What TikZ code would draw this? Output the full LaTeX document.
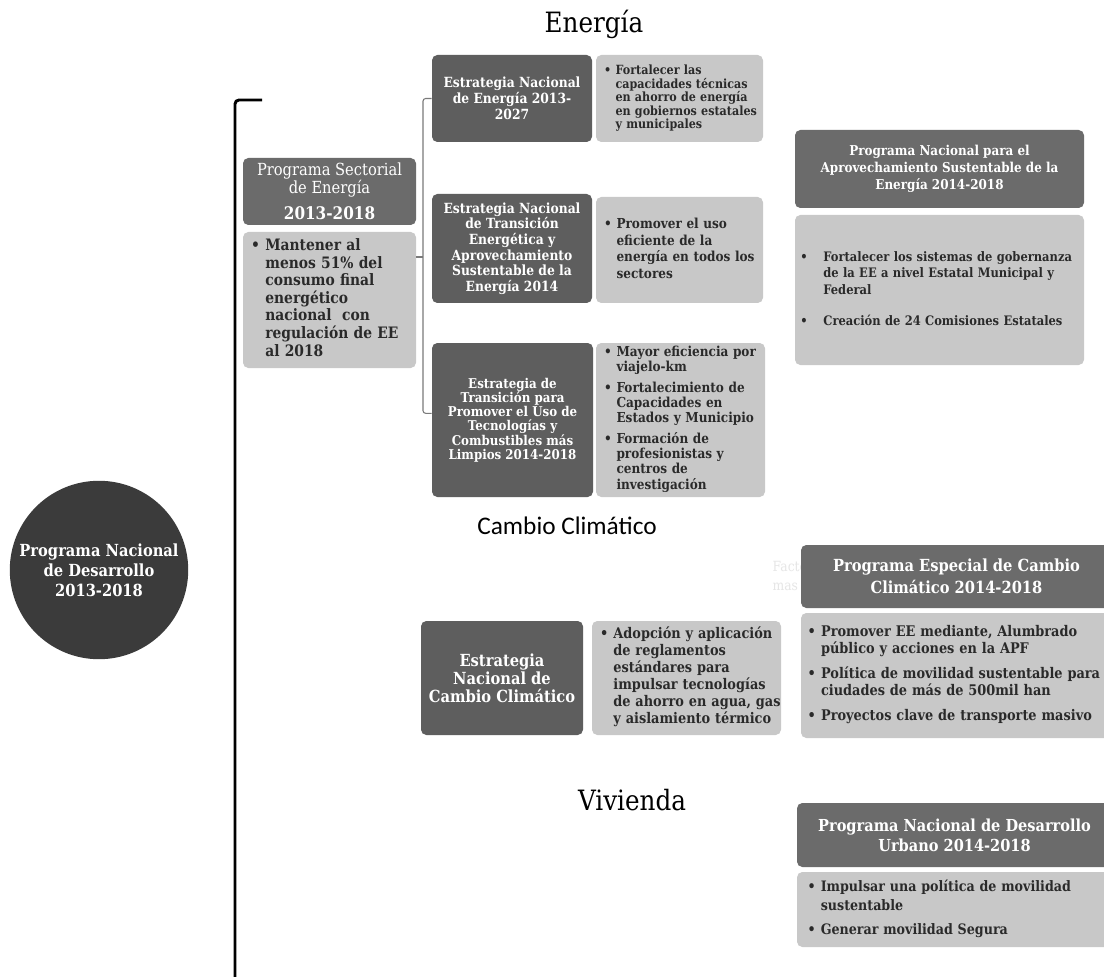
\documentclass[tikz,border=0pt]{standalone}
\usepackage{fontspec}
\setmainfont{DejaVu Serif}[FakeStretch=0.88]
\newfontfamily\titlesans{Carlito}

\definecolor{circgray}{HTML}{3B3B3B}
\definecolor{headgray}{HTML}{6B6B6B}
\definecolor{stratgray}{HTML}{5E5E5E}
\definecolor{notegray}{HTML}{C8C8C8}
\definecolor{inkgray}{HTML}{2A2A2A}
\definecolor{linegray}{HTML}{7A7A7A}
\definecolor{ghostgray}{HTML}{E6E6E6}

\newcommand{\fsz}[2]{\fontsize{#1}{#2}\selectfont}
\newcommand{\blist}[2][0.35em]{\noindent\begin{tabular}{@{}l@{\hspace{#1}}l@{}}#2\end{tabular}}

\begin{document}
\begin{tikzpicture}
  [x=0.75pt,y=-0.75pt,
   panel/.style={rounded corners=4pt,inner sep=2pt,align=center},
   headbox/.style={panel,fill=headgray,text=white},
   stratbox/.style={panel,fill=stratgray,text=white,minimum width=120pt},
   notebox/.style={panel,fill=notegray,text=inkgray,align=left,inner xsep=6pt},
   sectitle/.style={text=black,inner sep=0pt},
   joinline/.style={draw=linegray,line width=0.8pt,rounded corners=2pt}]
  \path[use as bounding box,fill=white] (0,0) rectangle (1104,977);

  % titles
  \node[sectitle,font=\fsz{21}{24}] (tEn) at (594,24) {Energía};
  \node[sectitle,font=\titlesans\fsz{19}{22}] (tCc) at (567,526) {Cambio Climático};
  \node[sectitle,font=\fsz{21}{24}] (tVi) at (632,800) {Vivienda};

  % national plan
  \node[circle,fill=circgray,text=white,align=center,minimum size=133.5pt,
        font=\bfseries\fsz{12.5}{15}] (pnd) at (99,570)
        {Programa Nacional\\de Desarrollo\\2013-2018};

  \coordinate (brTop) at (262,100);
  \coordinate (brBot) at (235,985);
  \draw[line width=2.2pt,rounded corners=3pt] (brTop) -| (brBot);

  % energy sector
  \node[headbox,minimum width=129.75pt,minimum height=50.25pt,font=\fsz{12.5}{13.2}]
        (pseHead) at (329.5,191.5)
        {Programa Sectorial\\de Energía\\[7pt]{\bfseries\fsz{13}{13}2013-2018}};
  \node[notebox,text width=117.75pt,minimum height=102pt,font=\bfseries\fsz{11.8}{13.1}]
        (pseBody) at (329.5,300)
        {\blist{\textbullet & Mantener al\\ & menos 51\% del\\ & consumo final\\ & energético\\
         & nacional\ \ con\\ & regulación de EE\\ & al 2018}};

  \node[stratbox,minimum height=65.25pt,font=\bfseries\fsz{10.5}{11.8}] (ent) at (512,98.5)
        {Estrategia Nacional\\de Energía 2013-\\2027};
  \node[notebox,text width=113.25pt,minimum height=65.25pt,font=\bfseries\fsz{9.5}{9.3}]
        (entNote) at (679.5,98.5)
        {\blist{\textbullet & Fortalecer las\\ & capacidades técnicas\\ & en ahorro de energía\\
         & en gobiernos estatales\\ & y municipales}};

  \node[stratbox,minimum height=81.75pt,font=\bfseries\fsz{10.5}{11.7}] (ente) at (512,248.5)
        {Estrategia Nacional\\de Transición\\Energética y\\Aprovechamiento\\Sustentable de la\\Energía 2014};
  \node[notebox,text width=113.25pt,minimum height=79.5pt,font=\bfseries\fsz{10.3}{12.4}]
        (enteNote) at (679.5,250)
        {\blist{\textbullet & Promover el uso\\ & eficiente de la\\ & energía en todos los\\ & sectores}};

  \node[stratbox,minimum width=120.75pt,minimum height=115.5pt,font=\bfseries\fsz{10.1}{10.7}]
        (etc) at (512.5,420)
        {Estrategia de\\Transición para\\Promover el Uso de\\Tecnologías y\\Combustibles más\\Limpios 2014-2018};
  \node[notebox,text width=114.75pt,minimum height=115.5pt,font=\bfseries\fsz{10.3}{11.2}]
        (etcNote) at (680.5,420)
        {\blist{\textbullet & Mayor eficiencia por\\ & viajelo-km\\[4.5pt]
         \textbullet & Fortalecimiento de\\ & Capacidades en\\ & Estados y Municipio\\[4.5pt]
         \textbullet & Formación de\\ & profesionistas y\\ & centros de\\ & investigación}};

  \coordinate (jn) at (423,257);
  \draw[joinline] (ent.west) -| (jn) |- ([yshift=5pt]etc.west);
  \draw[joinline] (pseBody.east |- jn) -- (jn);

  \node[headbox,minimum width=216.75pt,minimum height=58.5pt,font=\bfseries\fsz{10.2}{12.5}]
        (pnaseHead) at (939.5,169)
        {Programa Nacional para el\\Aprovechamiento Sustentable de la\\Energía 2014-2018};
  \node[notebox,inner xsep=4pt,text width=208.75pt,minimum height=112.5pt,font=\bfseries\fsz{9.8}{12.5}]
        (pnaseBody) at (939.5,290)
        {\blist[1.2em]{\textbullet & Fortalecer los sistemas de gobernanza\\
         & de la EE a nivel Estatal Municipal y\\ & Federal\\[11pt]
         \textbullet & Creación de 24 Comisiones Estatales}};

  % climate change
  \node[stratbox,minimum width=121.5pt,minimum height=85.5pt,font=\bfseries\fsz{12.5}{13.5}]
        (encc) at (502,678)
        {Estrategia\\Nacional de\\Cambio Climático};
  \node[notebox,text width=129.75pt,minimum height=85.5pt,font=\bfseries\fsz{11}{12.75}]
        (enccNote) at (686.5,678)
        {\blist{\textbullet & Adopción y aplicación\\ & de reglamentos\\ & estándares para\\
         & impulsar tecnologías\\ & de ahorro en agua, gas\\ & y aislamiento térmico}};

  \node[anchor=west,text=ghostgray,align=left,font=\fsz{10.5}{14}] (ghost) at (768,576)
        {Factores\\mas info};
  \node[headbox,minimum width=233.25pt,minimum height=47.25pt,font=\bfseries\fsz{12.5}{16.5}]
        (peccHead) at (956.5,576.5)
        {Programa Especial de Cambio\\Climático 2014-2018};
  \node[notebox,inner xsep=5pt,text width=223.25pt,minimum height=93.75pt,font=\bfseries\fsz{11}{12.75}]
        (peccBody) at (956.5,675.5)
        {\blist{\textbullet & Promover EE mediante, Alumbrado\\ & público y acciones en la APF\\[6pt]
         \textbullet & Política de movilidad sustentable para\\ & ciudades de más de 500mil han\\[6pt]
         \textbullet & Proyectos clave de transporte masivo}};

  % housing
  \node[headbox,minimum width=236.25pt,minimum height=48pt,font=\bfseries\fsz{12.4}{15}]
        (pnduHead) at (954.5,835)
        {Programa Nacional de Desarrollo\\Urbano 2014-2018};
  \node[notebox,inner xsep=8pt,text width=220.25pt,minimum height=56.25pt,font=\bfseries\fsz{10.8}{14}]
        (pnduBody) at (954.5,909.5)
        {\blist{\textbullet & Impulsar una política de movilidad\\ & sustentable\\[4.5pt]
         \textbullet & Generar movilidad Segura}};
\end{tikzpicture}
\end{document}
